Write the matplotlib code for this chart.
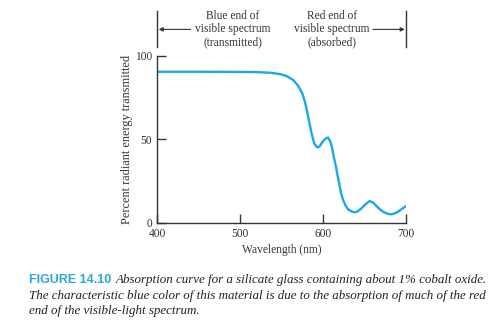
import numpy as np
import matplotlib
matplotlib.use("Agg")
import matplotlib.pyplot as plt
import matplotlib.transforms as mtransforms

# Transmission curve for cobalt-oxide silicate glass
wavelength = [400, 450, 500, 520, 536, 548, 556, 564, 570, 574.7, 578, 580.7,
              583.1, 586, 589.2, 591.5, 593.3, 595.5, 598.1, 601, 603.3, 606,
              608.3, 610.5, 613, 615.3, 617.3, 619.3, 621.5, 624.1, 627, 630.1,
              634, 638.2, 642, 646.3, 651, 656.3, 660.5, 664.3, 668, 672.3,
              677, 681.6, 686, 690.4, 695, 700]
transmitted = [90.4, 90.4, 90.3, 90.2, 89.8, 89.0, 87.8, 85.4, 81.9, 77.5, 72.5, 66.5,
               60.5, 53.5, 47.5, 45.8, 45.1, 45.6, 47.5, 49.5, 50.5, 51.0,
               49.0, 45.5, 39.0, 34.0, 28.5, 23.6, 18.0, 13.6, 10.3, 8.0,
               6.8, 6.2, 6.9, 8.6, 11.0, 13.0, 12.0, 10.0, 8.2, 6.6,
               5.5, 5.0, 5.5, 6.6, 8.2, 10.0]

xticks = [400, 500, 600, 700]
yticks = [0, 50, 100]

curve_color = "#1ba8e4"
ink = "#333333"
serif = ["Liberation Serif", "DejaVu Serif"]

fig = plt.figure(figsize=(4.99, 3.23), dpi=100)
ax = fig.add_axes([0.3156, 0.3105, 0.498, 0.517])

ax.plot(wavelength, transmitted, color=curve_color, lw=1.7,
        solid_capstyle="round", solid_joinstyle="round")
ax.set_xlim(400, 700)
ax.set_ylim(0, 100)

for s in ["top", "right"]:
    ax.spines[s].set_visible(False)
for s in ["left", "bottom"]:
    ax.spines[s].set_color(ink)
    ax.spines[s].set_linewidth(1.0)

ax.set_xticks(xticks)
ax.set_yticks(yticks)
ax.tick_params(direction="in", length=6.5, width=1.0, color=ink,
               labelsize=8.3, labelcolor=ink, pad=4)
for lab in ax.get_xticklabels() + ax.get_yticklabels():
    lab.set_family(serif)

ax.set_xlabel("Wavelength (nm)", fontsize=8.3, family=serif, color=ink, labelpad=3)
ax.set_ylabel("Percent radiant energy transmitted", fontsize=8.8, family=serif,
              color=ink, labelpad=1)

# spectrum-end markers above the plot
trans = mtransforms.blended_transform_factory(ax.transData, fig.transFigure)
y_top, y_bot, y_arr = 0.966, 0.8545, 0.909
for xv in (400, 700):
    ax.plot([xv, xv], [y_bot, y_top], transform=trans, color=ink, lw=1.0,
            clip_on=False)
ax.annotate("", xy=(401.5, y_arr), xytext=(440, y_arr), xycoords=trans,
            textcoords=trans,
            arrowprops=dict(arrowstyle="-|>", color=ink, lw=0.8,
                            mutation_scale=6, shrinkA=0, shrinkB=0))
ax.annotate("", xy=(698.5, y_arr), xytext=(660, y_arr), xycoords=trans,
            textcoords=trans,
            arrowprops=dict(arrowstyle="-|>", color=ink, lw=0.8,
                            mutation_scale=6, shrinkA=0, shrinkB=0))
ax.text(491, y_arr, "Blue end of\nvisible spectrum\n(transmitted)", transform=trans,
        ha="center", va="center", fontsize=8.3, family=serif, color=ink,
        linespacing=1.15)
ax.text(610.5, y_arr, "Red end of\nvisible spectrum\n(absorbed)", transform=trans,
        ha="center", va="center", fontsize=8.3, family=serif, color=ink,
        linespacing=1.15)

# caption
fig.text(29 / 499, 1 - 280 / 323, "FIGURE 14.10", fontsize=9, weight="bold",
         family=["Liberation Sans", "DejaVu Sans"], color="#2aa7df", va="center")
caption = [
    "Absorption curve for a silicate glass containing about 1% cobalt oxide.",
    "The characteristic blue color of this material is due to the absorption of much of the red",
    "end of the visible-light spectrum.",
]
cap_kw = dict(fontsize=9.35, style="italic", family=serif, color="#222222",
              va="center")
fig.text(116 / 499, 1 - 280 / 323, caption[0], **cap_kw)
fig.text(29 / 499, 1 - 295.5 / 323, caption[1], **cap_kw)
fig.text(29 / 499, 1 - 311 / 323, caption[2], **cap_kw)

fig.savefig("out.png", dpi=100, facecolor="white")
